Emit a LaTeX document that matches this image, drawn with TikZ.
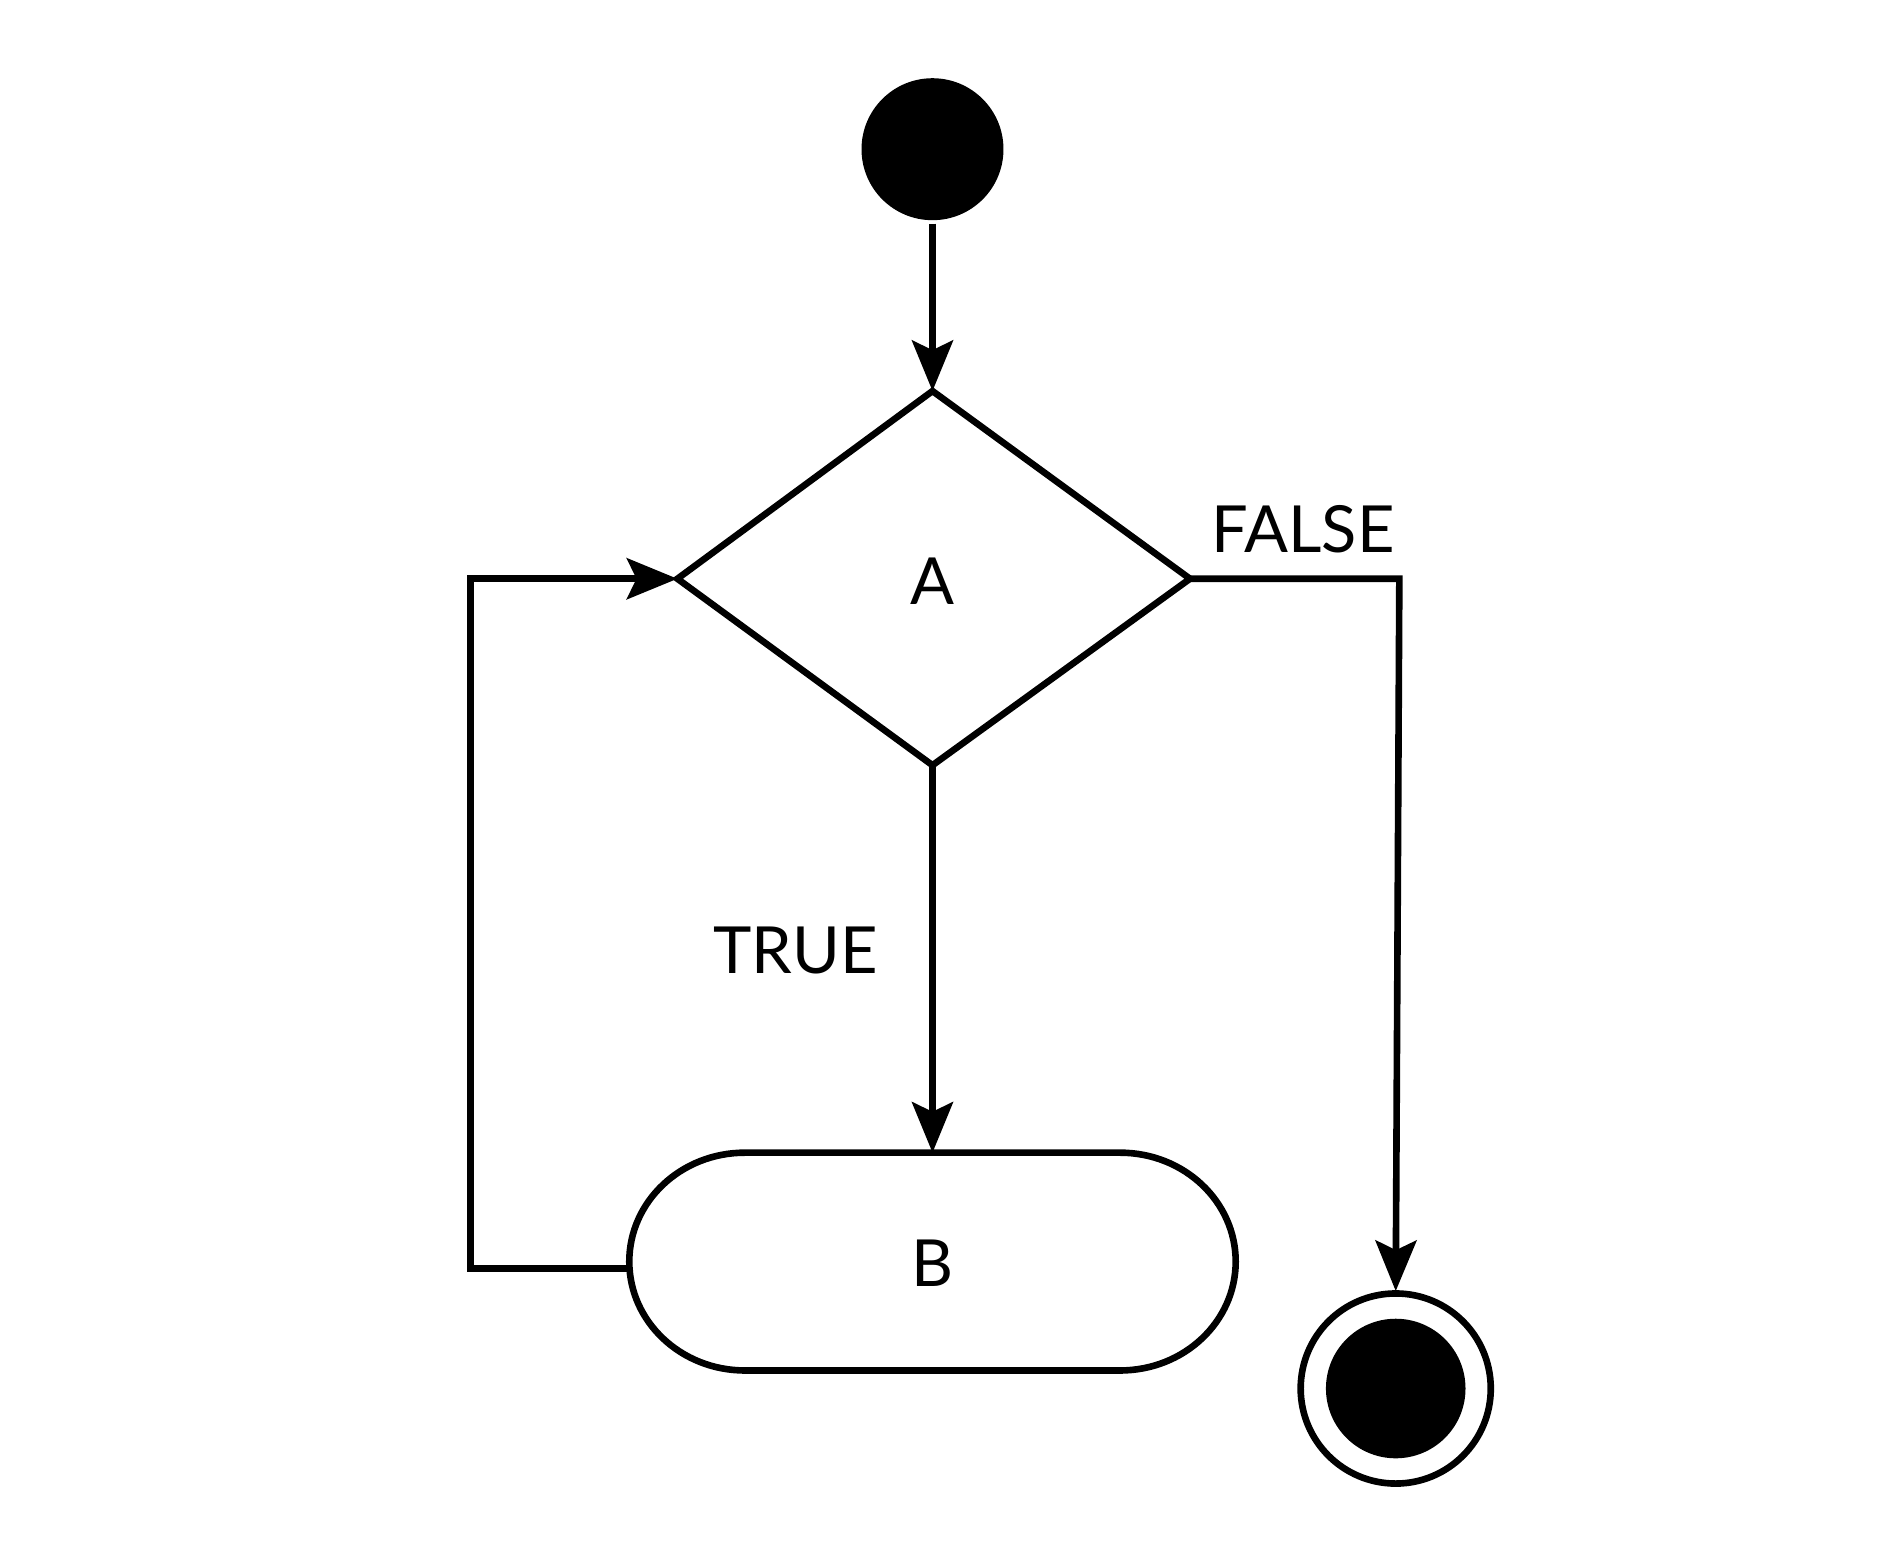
\documentclass[tikz,border=0pt]{standalone}
\usepackage{fontspec}
\setmainfont{Lato}
\usetikzlibrary{arrows.meta}
\begin{document}
\begin{tikzpicture}[x=1pt,y=-1pt,line width=5.5pt,
  arr/.style={-{Stealth[length=42pt,width=34pt,inset=8pt]}},
  lbl/.style={font=\fontsize{54}{60}\selectfont}]
\useasboundingbox (0,0) rectangle (1560,1296);
\fill (775,124) circle (59);
\node[inner sep=0,minimum size=118pt,circle] (s) at (775,124) {};
\coordinate (dt) at (775,325);
\coordinate (dl) at (563,481);
\coordinate (dr) at (989,481);
\coordinate (db) at (775,636);
\draw[line join=miter] (dt) -- (dr) -- (db) -- (dl) -- cycle;
\node[lbl] (a) at (775,483) {A};
\draw[arr] (s.south) -- (dt);
% B
\draw (619,958) -- (931,958) arc(-90:90:96 and 90.5) -- (619,1139) arc(90:270:96 and 90.5) -- cycle;
\node[lbl] (b) at (775,1050) {B};
\coordinate (bt) at (775,958);
\coordinate (bl) at (523,1054);
\draw[arr] (db) -- (bt);
\node[lbl] (t) at (661,790) {TRUE};
% end
\draw (1160,1154) circle (79);
\fill (1160,1154) circle (58);
\coordinate (et) at (1160,1073);
\coordinate (c1) at (1163,481);
\draw[arr] (dr) -- (c1) -- (et);
\node[lbl] (f) at (1083,440) {FALSE};
\draw[arr] (bl) -- (391,1054) -- (391,481) -- (dl);
\end{tikzpicture}
\end{document}
